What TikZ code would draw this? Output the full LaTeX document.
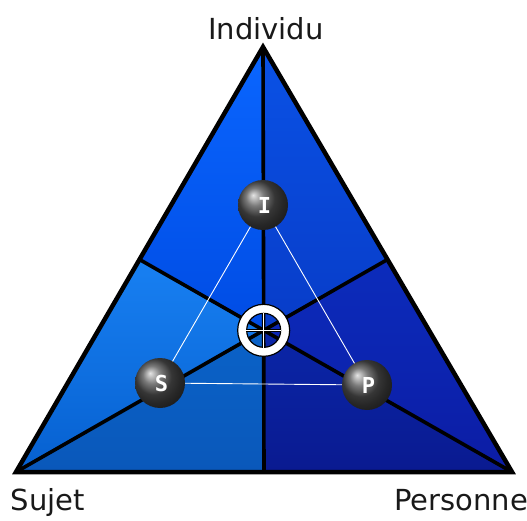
\documentclass[tikz,border=0pt]{standalone}
\usepackage{fontspec}
\setmainfont{DejaVu Sans}
\newfontfamily\ballfont{DejaVu Sans Mono Bold}
\usetikzlibrary{calc}
\definecolor{cTLa}{HTML}{0A66FF}
\definecolor{cTLb}{HTML}{004CE4}
\definecolor{cTRa}{HTML}{0A52E6}
\definecolor{cTRb}{HTML}{083CC8}
\definecolor{cLa}{HTML}{1880F2}
\definecolor{cLb}{HTML}{0660D0}
\definecolor{cBLa}{HTML}{0A62C8}
\definecolor{cBLb}{HTML}{0A58BA}
\definecolor{cBRa}{HTML}{0A26A8}
\definecolor{cBRb}{HTML}{0A1A90}
\definecolor{cRa}{HTML}{0C2CBC}
\definecolor{cRb}{HTML}{0C1CA4}
\tikzset{
  edge/.style={line width=4.5pt, line join=miter, black},
  median/.style={line width=3.6pt, black},
  link/.style={white, line width=0.9pt},
  sphere/.style={circle, minimum size=50pt, inner sep=0pt, shading=ball, ball color=gray!60!black, text=white, font=\ballfont\fontsize{22}{22}\selectfont},
  lbl/.style={font=\fontsize{29}{29}\selectfont, text=black!90, inner sep=0pt, anchor=base}
}
\begin{document}
\begin{tikzpicture}[x=1pt,y=-1pt]
\useasboundingbox (0,0) rectangle (527,521);
\coordinate (A) at (263,47);
\coordinate (B) at (16,472);
\coordinate (C) at (512,472);
\coordinate (G) at (263.67,330.33);
\coordinate (mAB) at ($(A)!0.5!(B)$);
\coordinate (mAC) at ($(A)!0.5!(C)$);
\coordinate (mBC) at ($(B)!0.5!(C)$);
% regions
\shade[top color=cTLa, bottom color=cTLb] (A) -- (mAB) -- (G) -- cycle;
\shade[top color=cTRa, bottom color=cTRb] (A) -- (mAC) -- (G) -- cycle;
\shade[top color=cLa, bottom color=cLb] (mAB) -- (B) -- (G) -- cycle;
\shade[top color=cBLa, bottom color=cBLb] (B) -- (mBC) -- (G) -- cycle;
\shade[top color=cBRa, bottom color=cBRb] (mBC) -- (C) -- (G) -- cycle;
\shade[top color=cRa, bottom color=cRb] (C) -- (mAC) -- (G) -- cycle;
% medians
\draw[median] (A) -- (mBC);
\draw[median] (B) -- (mAC);
\draw[median] (C) -- (mAB);
% outline
\draw[edge] (A) -- (B) -- (C) -- cycle;
% center symbol
\fill[white, draw=black, line width=1.2pt, even odd rule] (G) circle[radius=26pt] (G) circle[radius=17pt];
\draw[black, line width=3.2pt] ($(G)+(0,-17)$) -- ($(G)+(0,17)$);
\draw[black, line width=3.2pt] ($(G)+(-17,0)$) -- ($(G)+(17,0)$);
\draw[white, line width=1.4pt] ($(G)+(0,-17.5)$) -- ($(G)+(0,17.5)$);
\draw[white, line width=1.4pt] ($(G)+(-17.5,0)$) -- ($(G)+(17.5,0)$);
% spheres
\coordinate (pI) at (263,205);
\coordinate (pS) at (160,383);
\coordinate (pP) at (367,385);
\draw[link] (pI) -- (pS) -- (pP) -- cycle;
\node[sphere] (I) at (pI) {\raisebox{-3pt}{\hspace{3pt}I}};
\node[sphere] (S) at (pS) {\raisebox{-3pt}{\hspace{3pt}S}};
\node[sphere] (P) at (pP) {\raisebox{-3pt}{\hspace{3pt}P}};
% labels
\node[lbl] (tI) at (266,40) {Individu};
\node[lbl] (tS) at (48,510) {Sujet};
\node[lbl] (tP) at (461,510) {Personne};
\end{tikzpicture}
\end{document}
